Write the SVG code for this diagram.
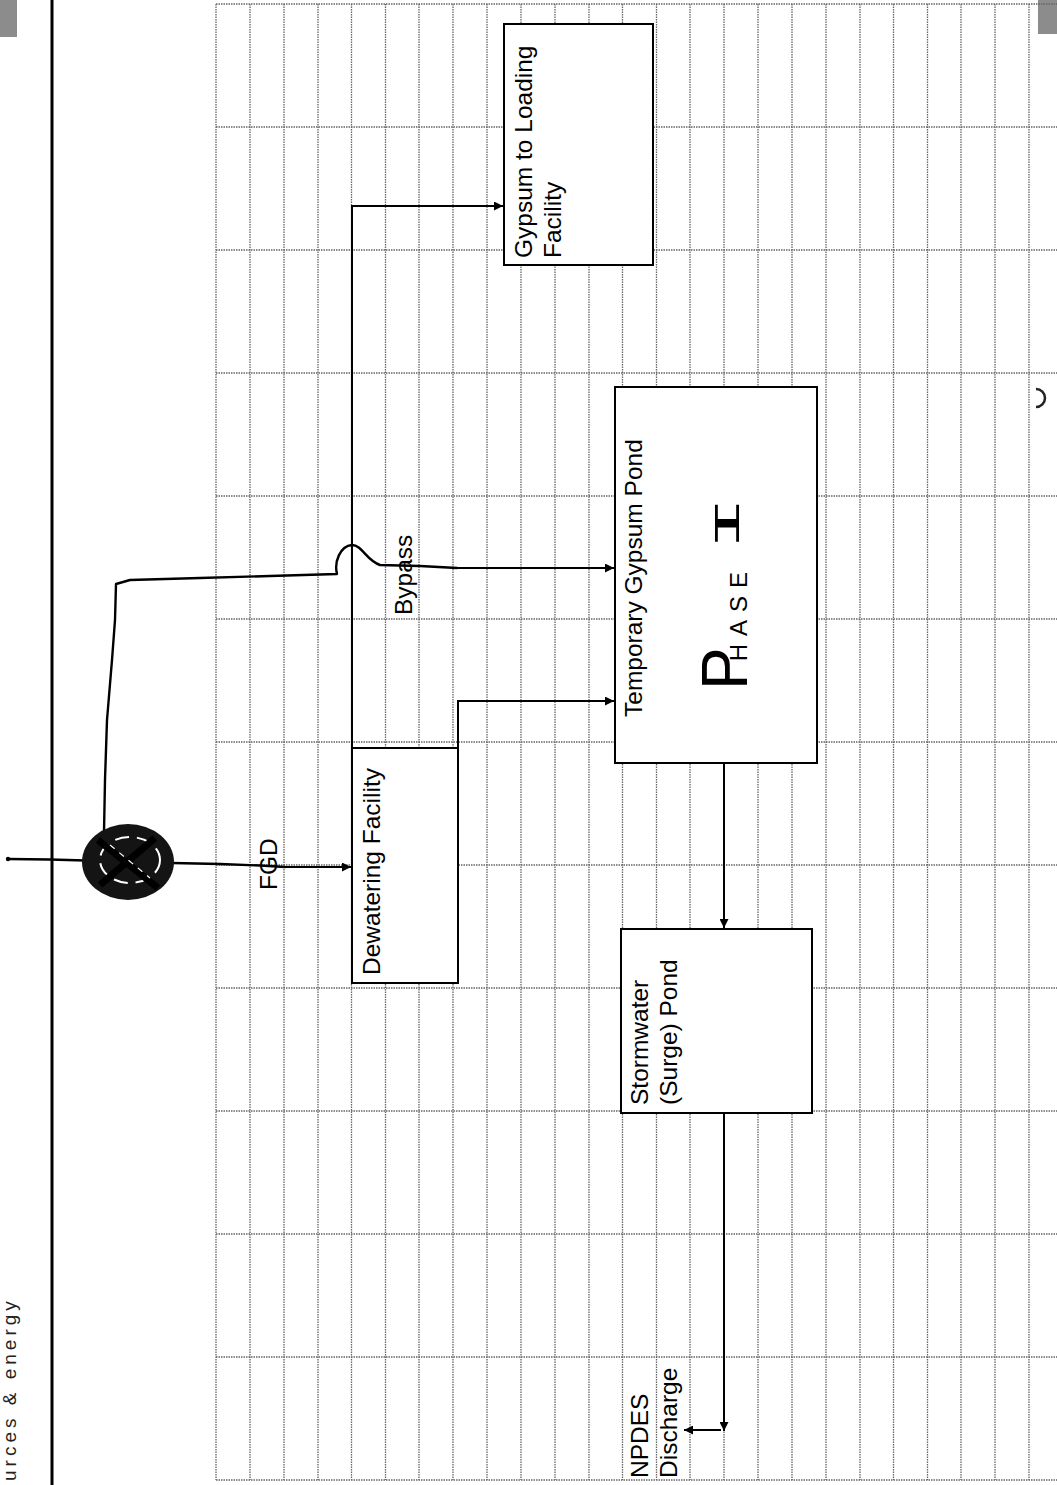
<svg xmlns="http://www.w3.org/2000/svg" width="1057" height="1485" viewBox="0 0 1057 1485">
<style>
.lbl{font-family:"Liberation Sans",Arial,sans-serif;font-size:24.5px;fill:#000}
.box{fill:#fff;stroke:#000;stroke-width:2}
.grid{stroke:#666;stroke-width:1.3;stroke-dasharray:1.5 1;fill:none}
.conn{stroke:#000;stroke-width:2;fill:none}
.hand{stroke:#000;stroke-width:2.4;fill:none;stroke-linecap:round;stroke-linejoin:round}
.hw{font-family:"Liberation Sans",sans-serif;fill:#000}
</style>
<defs>
<marker id="arr" viewBox="0 0 10 10" refX="10" refY="5" markerWidth="11" markerHeight="9" orient="auto" markerUnits="userSpaceOnUse">
<path d="M0,0 L10,5 L0,10 z" fill="#000"/>
</marker>
</defs>
<rect x="0" y="0" width="1057" height="1485" fill="#fff"/>

<g id="page-frame">
<rect x="0" y="0" width="17" height="37" fill="#8c8c8c"/>
<rect x="1038" y="0" width="19" height="34" fill="#8c8c8c"/>
<path d="M1036,389 A9,9 0 1 1 1036,407" fill="none" stroke="#222" stroke-width="2.5"/>
<line x1="52" y1="0" x2="52" y2="1485" stroke="#000" stroke-width="3"/>
<text class="lbl" transform="translate(16,1481) rotate(-90)" style="font-size:19px;letter-spacing:4px;fill:#222">urces &amp; energy</text>
</g>

<g id="grid">
<path class="grid" d="M216,4V1480 M250,4V1480 M284,4V1480 M318,4V1480 M351.5,4V1480 M385.5,4V1480 M419,4V1480 M453,4V1480 M487,4V1480 M521,4V1480 M555,4V1480 M589,4V1480 M622.5,4V1480 M656.5,4V1480 M690,4V1480 M724,4V1480 M758,4V1480 M792,4V1480 M826,4V1480 M860,4V1480 M893.5,4V1480 M927.5,4V1480 M961,4V1480 M995,4V1480 M1029,4V1480"/>
<path class="grid" d="M216,4H1057 M216,127H1057 M216,250H1057 M216,373H1057 M216,496H1057 M216,619H1057 M216,742H1057 M216,865H1057 M216,988H1057 M216,1111H1057 M216,1234H1057 M216,1357H1057 M216,1480H1057"/>
</g>

<g id="connectors">
<line class="conn" x1="283" y1="867" x2="351" y2="867" marker-end="url(#arr)"/>
<polyline class="conn" points="352,748 352,206 503,206" marker-end="url(#arr)"/>
<polyline class="conn" points="458,748 458,701 614,701" marker-end="url(#arr)"/>
<line class="conn" x1="455" y1="568" x2="614" y2="568" marker-end="url(#arr)"/>
<line class="conn" x1="724" y1="763" x2="724" y2="928" marker-end="url(#arr)"/>
<line class="conn" x1="724" y1="1113" x2="724" y2="1431" marker-end="url(#arr)"/>
<line class="conn" x1="721" y1="1430" x2="684" y2="1430" marker-end="url(#arr)"/>
</g>

<g id="handdrawn">
<circle cx="8" cy="859" r="2.2" fill="#000"/>
<path class="hand" d="M8,859 L50,859.5 L85,860.5"/>
<path class="hand" d="M172,863 L220,864 L260,865.5 L285,867"/>
<path class="hand" d="M104,832 L105,780 L107,720 L112,660 L115,620 L116,584 L130,580 L200,578 L270,576 L337,574 C334,562 340,546 352,545 C362,545 366,560 380,565 L420,566 L457,568"/>
<ellipse cx="128" cy="862" rx="46" ry="38" fill="#141414"/>
<ellipse cx="130" cy="860" rx="30" ry="23" fill="none" stroke="#fff" stroke-width="2" stroke-dasharray="14 8"/>
<path d="M98,840 L158,888 M155,838 L100,885" stroke="#000" stroke-width="7" fill="none"/>
<path d="M110,845 L150,878" stroke="#fff" stroke-width="1.2" fill="none" stroke-dasharray="6 6"/>
</g>

<g id="node-dewatering">
<rect class="box" x="352" y="748" width="106" height="235"/>
<text class="lbl" transform="translate(380,975) rotate(-90)">Dewatering Facility</text>
</g>

<g id="node-gypsum-loading">
<rect class="box" x="504" y="24" width="149" height="241"/>
<text class="lbl" transform="translate(532,258) rotate(-90)">Gypsum to Loading</text>
<text class="lbl" transform="translate(561,258) rotate(-90)">Facility</text>
</g>

<g id="node-temp-pond">
<rect class="box" x="615" y="387" width="202" height="376"/>
<text class="lbl" transform="translate(642,717) rotate(-90)">Temporary Gypsum Pond</text>
<text class="hw" transform="translate(747,690) rotate(-90)"><tspan style="font-size:64px">P</tspan><tspan dx="-14" style="font-size:24px" letter-spacing="8">HASE</tspan></text>
<text class="hw" transform="translate(739,551) rotate(-90) scale(2.5,1)" style="font-family:'Liberation Mono',monospace;font-size:37px">I</text>
</g>

<g id="node-stormwater">
<rect class="box" x="621" y="929" width="191" height="184"/>
<text class="lbl" transform="translate(648,1105) rotate(-90)">Stormwater</text>
<text class="lbl" transform="translate(677,1105) rotate(-90)">(Surge) Pond</text>
</g>

<g id="labels">
<text class="lbl" transform="translate(277,890) rotate(-90)">FGD</text>
<text class="lbl" transform="translate(412,615) rotate(-90)">Bypass</text>
<text class="lbl" transform="translate(648,1478) rotate(-90)">NPDES</text>
<text class="lbl" transform="translate(677,1478) rotate(-90)">Discharge</text>
</g>
</svg>
